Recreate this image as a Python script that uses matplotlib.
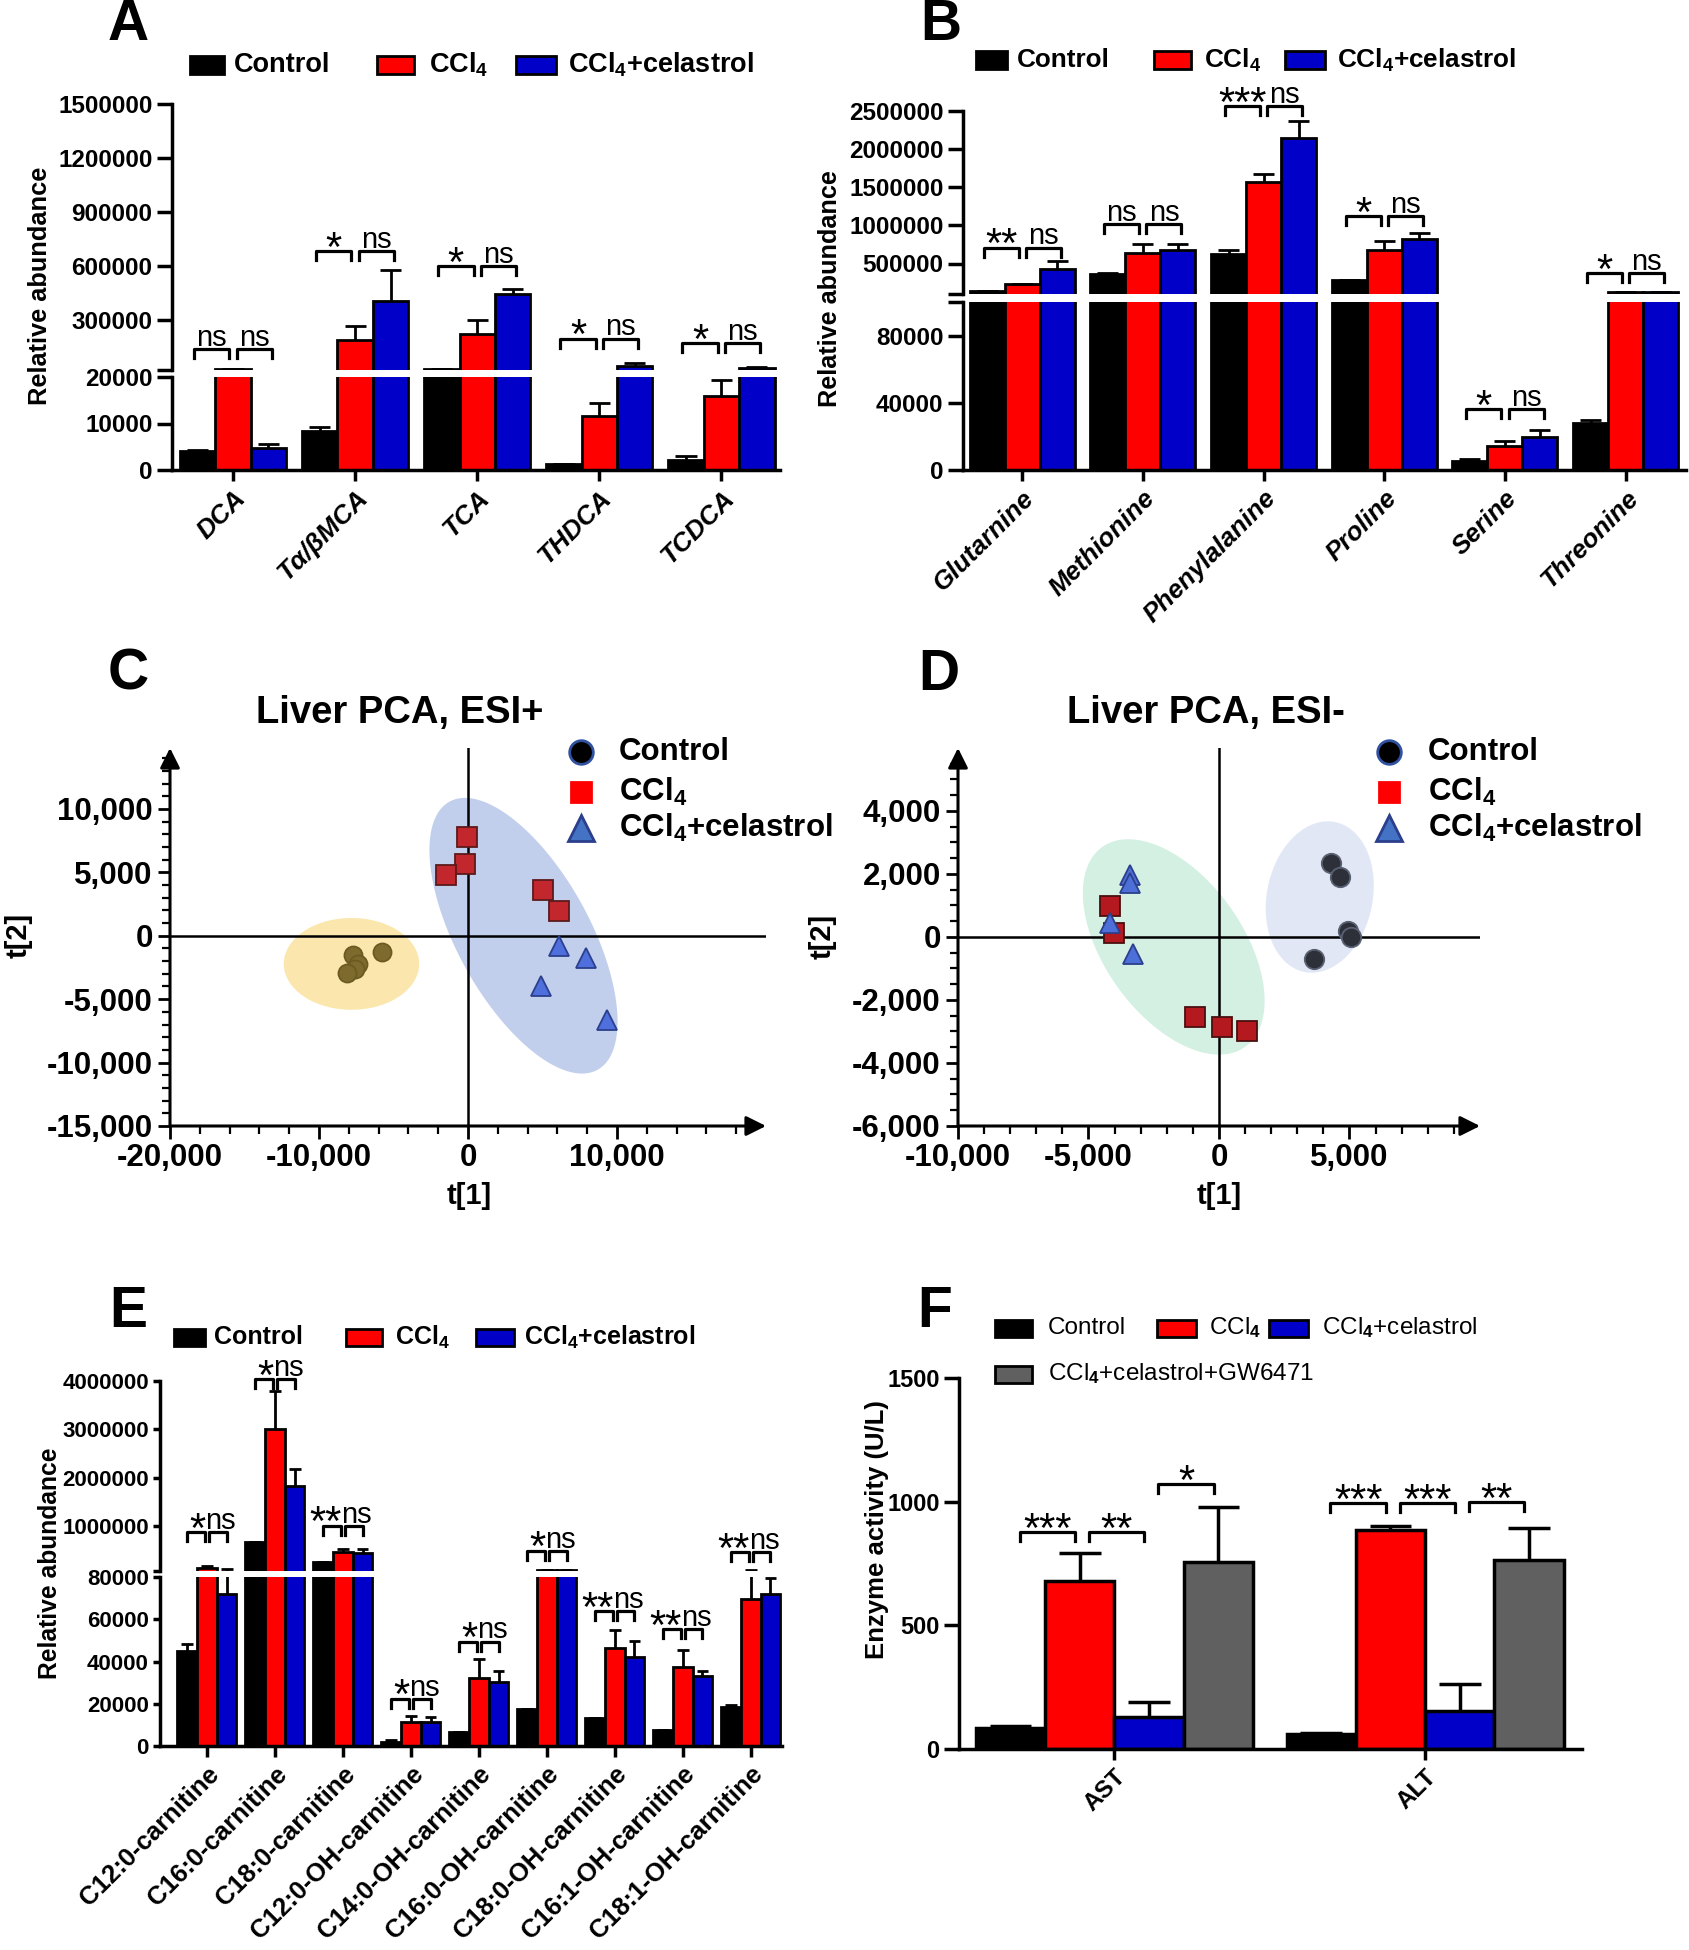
import numpy as np
import matplotlib.pyplot as plt
from matplotlib.patches import Rectangle
from matplotlib.lines import Line2D
from matplotlib.ticker import FixedLocator, FuncFormatter
from matplotlib.transforms import offset_copy

plt.rcParams['font.family'] = ['Liberation Sans', 'DejaVu Sans']
plt.rcParams['font.weight'] = 'bold'
plt.rcParams['mathtext.fontset'] = 'custom'
plt.rcParams['mathtext.rm'] = 'Liberation Sans:bold'
plt.rcParams['mathtext.bf'] = 'Liberation Sans:bold'
plt.rcParams['mathtext.default'] = 'rm'

W, H = 1689, 1950
CCL4 = 'CCl$_4$'
CEL = 'CCl$_4$+celastrol'
C_CTRL, C_CCL4, C_CEL, C_GW = '#000000', '#ff0000', '#0000c8', '#606060'

# ---------------- panel A : bile acids ----------------
cats_a = ['DCA', 'Tα/βMCA', 'TCA', 'THDCA', 'TCDCA']
ctrl_a = [4000, 8300, 26000, 1240, 2150]
ctrl_a_sem = [400, 900, 0, 0, 850]
ccl4_a = [26000, 189000, 222000, 11600, 16000]
ccl4_a_sem = [0, 75000, 78000, 2900, 3300]
cel_a = [4800, 405000, 443000, 42000, 31000]
cel_a_sem = [700, 172000, 29000, 17000, 6000]
sig_a = [('ns', 'ns'), ('*', 'ns'), ('*', 'ns'), ('*', 'ns'), ('*', 'ns')]
brk_a = [136000, 681000, 598000, 195000, 170000]

# ---------------- panel B : amino acids ----------------
cats_b = ['Glutarnine', 'Methionine', 'Phenylalanine', 'Proline', 'Serine', 'Threonine']
ctrl_b = [137000, 360000, 620000, 282000, 5500, 28000]
ctrl_b_sem = [0, 20000, 51000, 0, 900, 1700]
ccl4_b = [225000, 635000, 1564000, 680000, 14300, 126000]
ccl4_b_sem = [5000, 115000, 104000, 116000, 2800, 0]
cel_b = [427000, 680000, 2151000, 827000, 19700, 128000]
cel_b_sem = [104000, 80000, 218000, 68000, 4100, 0]
sig_b = [('**', 'ns'), ('ns', 'ns'), ('***', 'ns'), ('*', 'ns'), ('*', 'ns'), ('*', 'ns')]
brk_b = [708000, 1019000, 2567000, 1123000, 36300, 375000]

# ---------------- panel C : PCA ESI+ ----------------
c_ctrl_t1 = [-7700, -7400, -7600, -8100, -5800]
c_ctrl_t2 = [-1500, -2200, -2600, -2900, -1250]
c_ccl4_t1 = [-100, -200, -1450, 5020, 6110]
c_ccl4_t2 = [7750, 5680, 4820, 3610, 1980]
c_cel_t1 = [6100, 7930, 4870, 9350]
c_cel_t2 = [-800, -1780, -3930, -6660]

# ---------------- panel D : PCA ESI- ----------------
d_ctrl_t1 = [4290, 4650, 4940, 5060, 3630]
d_ctrl_t2 = [2350, 1920, 180, 0, -690]
d_ccl4_t1 = [-4180, -4040, -920, 100, 1080]
d_ccl4_t2 = [970, 120, -2550, -2850, -2970]
d_cel_t1 = [-3410, -3410, -4180, -3310]
d_cel_t2 = [1960, 1720, 450, -530]

# ---------------- panel E : acylcarnitines ----------------
cats_e = ['C12:0-carnitine', 'C16:0-carnitine', 'C18:0-carnitine', 'C12:0-OH-carnitine',
          'C14:0-OH-carnitine', 'C16:0-OH-carnitine', 'C18:0-OH-carnitine',
          'C16:1-OH-carnitine', 'C18:1-OH-carnitine']
ctrl_e = [44900, 686000, 276000, 2040, 6530, 17300, 13300, 7550, 18400]
ctrl_e_sem = [3500, 0, 0, 600, 0, 0, 0, 0, 1000]
ccl4_e = [151000, 3019000, 463000, 11200, 32000, 98000, 46500, 37300, 69800]
ccl4_e_sem = [36000, 774000, 80000, 3100, 9000, 0, 8200, 8000, 28000]
cel_e = [71800, 1843000, 454000, 11200, 30200, 98000, 42200, 33000, 72000]
cel_e_sem = [44000, 347000, 80000, 2700, 5300, 0, 7400, 2500, 7600]
sig_e = [('*', 'ns'), ('*', 'ns'), ('**', 'ns'), ('*', 'ns'), ('*', 'ns'),
         ('*', 'ns'), ('**', 'ns'), ('**', 'ns'), ('**', 'ns')]
brk_e = [881000, 4040000, 1015000, 22400, 49400, 499000, 63700, 55500, 463000]

# ---------------- panel F : serum enzymes ----------------
cats_f = ['AST', 'ALT']
ctrl_f = [86, 61]
ctrl_f_sem = [9, 3]
ccl4_f = [678, 884]
ccl4_f_sem = [116, 19]
cel_f = [130, 154]
cel_f_sem = [59, 109]
gw_f = [756, 765]
gw_f_sem = [222, 129]
sig_f = [[('***', 0, 1, 877), ('**', 1, 2, 877), ('*', 2, 3, 1071)],
         [('***', 0, 1, 995), ('***', 1, 2, 995), ('**', 2, 3, 998)]]

NS_FS, AST_FS = 21, 30

fig = plt.figure(figsize=(W / 100, H / 100), dpi=100)


def box(l, t, r, b):
    return [l / W, 1 - b / H, (r - l) / W, (b - t) / H]


def ftext(x, y, s, **kw):
    fig.text(x / W, 1 - y / H, s, **kw)


def legend_row(items, y, fs, h=17, weight='bold'):
    for x0, x1, tx, label, col in items:
        fig.add_artist(Rectangle((x0 / W, 1 - (y + h / 2) / H), (x1 - x0) / W, h / H,
                                 transform=fig.transFigure, facecolor=col,
                                 edgecolor='black', lw=2))
        ftext(tx, y, label, fontsize=fs, va='center', ha='left', fontweight=weight)


def bracket(ax, x0, x1, y, txt, side=None):
    # side: None -> text centred; 'left' -> text ends at right leg; 'right' -> starts at left leg
    y0, y1 = ax.get_ylim()
    h = 9 * (y1 - y0) / (ax.get_position().height * H)
    ax.plot([x0, x0, x1, x1], [y - h, y, y, y - h], color='black', lw=2.3,
            clip_on=False, zorder=5)
    if side == 'left':
        tx, ha = x1 + 0.01, 'right'
    elif side == 'right':
        tx, ha = x0 - 0.05, 'left'
    else:
        tx, ha = (x0 + x1) / 2, 'center'
    if '*' in txt:
        tr = offset_copy(ax.transData, fig=fig, y=-0.31 * AST_FS, units='points')
        ax.text(tx, y + h * 0.35, txt, ha=ha, va='baseline',
                fontsize=AST_FS, fontweight='normal', transform=tr, clip_on=False)
    else:
        ax.text(tx, y + h * 0.35, txt, ha=ha, va='baseline',
                fontsize=NS_FS, fontweight='normal', clip_on=False)


def draw_bars(ax, xs, vals, sems, col, width, floor, lw=2):
    xs = np.asarray(xs, float)
    vals = np.asarray(vals, float)
    tops = vals + np.asarray(sems, float)
    keep = vals > floor
    ax.bar(xs[keep], vals[keep], width, color=col, edgecolor='black', linewidth=lw, zorder=2)
    ke = tops > floor
    cw = width * 0.3
    ax.vlines(xs[ke], vals[ke], tops[ke], color='black', lw=lw, zorder=3)
    ax.hlines(tops[ke], xs[ke] - cw, xs[ke] + cw, color='black', lw=lw, zorder=3)


def style_axis(ax, fs, ylen=11):
    for s in ax.spines.values():
        s.set_linewidth(2.5)
    ax.spines['top'].set_visible(False)
    ax.spines['right'].set_visible(False)
    ax.tick_params(axis='y', length=ylen, width=2.5, labelsize=fs, pad=3)
    ax.tick_params(axis='x', length=8, width=2.5, labelsize=fs)


def broken_bars(r_up, r_lo, lim_up, lim_lo, tk_up, tk_lo, lab_lo, xlim, series, width,
                cats, sig, brk, fs, xfs, italic, d1, d2, ylen, tight=False):
    ax_up = fig.add_axes(r_up)
    ax_lo = fig.add_axes(r_lo)
    n = len(cats)
    x = np.arange(n)
    offs = (np.arange(len(series)) - (len(series) - 1) / 2) * width
    for ax, floor in ((ax_up, lim_up[0]), (ax_lo, -np.inf)):
        for (vals, sems, col), off in zip(series, offs):
            draw_bars(ax, x + off, vals, sems, col, width, floor)
        ax.set_xlim(xlim)
        style_axis(ax, fs, ylen)
    ax_up.set_ylim(lim_up)
    ax_lo.set_ylim(lim_lo)
    ax_up.spines['bottom'].set_visible(False)
    ax_up.tick_params(axis='x', bottom=False, labelbottom=False)
    ax_up.set_yticks(tk_up)
    ax_up.set_yticklabels([''] + [str(v) for v in tk_up[1:]])
    ax_lo.set_yticks(tk_lo)
    ax_lo.set_yticklabels(lab_lo)
    ax_lo.set_xticks(x)
    ax_lo.set_xticklabels(cats, rotation=45, ha='right', va='top', rotation_mode='anchor',
                          fontsize=xfs, fontstyle='italic' if italic else 'normal')
    for i in range(n):
        ax = ax_up if brk[i] > lim_lo[1] else ax_lo
        bracket(ax, i - width - d1, i - d2, brk[i], sig[i][0], 'left' if tight else None)
        bracket(ax, i + d2, i + width + d1, brk[i], sig[i][1], 'right' if tight else None)
    return ax_up, ax_lo


# ---------- A ----------
broken_bars(box(172, 104, 780, 370), box(172, 377, 780, 470), (20000, 1500000), (0, 20000),
            [20000, 300000, 600000, 900000, 1200000, 1500000], [0, 10000, 20000],
            ['0', '10000', '20000'], (-0.5, 4.48),
            [(ctrl_a, ctrl_a_sem, C_CTRL), (ccl4_a, ccl4_a_sem, C_CCL4), (cel_a, cel_a_sem, C_CEL)],
            0.29, cats_a, sig_a, brk_a, 17.5, 19, True, 0.03, 0.03, 11)
ftext(128, 25, 'A', fontsize=41, ha='center', va='center')
ftext(40, 286, 'Relative abundance', fontsize=18.3, rotation=90, ha='center', va='center')
legend_row([(190, 224, 234, 'Control', C_CTRL), (377, 414, 429, CCL4, C_CCL4),
            (516, 556, 568, CEL, C_CEL)], 65, 19.5)

# ---------- B ----------
broken_bars(box(963, 111, 1686, 294), box(963, 302, 1686, 470), (100000, 2500000), (0, 100000),
            [100000, 500000, 1000000, 1500000, 2000000, 2500000], [0, 40000, 80000, 100000],
            ['0', '40000', '80000', ''], (-0.49, 5.5),
            [(ctrl_b, ctrl_b_sem, C_CTRL), (ccl4_b, ccl4_b_sem, C_CCL4), (cel_b, cel_b_sem, C_CEL)],
            0.29, cats_b, sig_b, brk_b, 17.5, 18.8, True, 0.03, 0.03, 11)
ftext(941, 25, 'B', fontsize=41, ha='center', va='center')
ftext(830, 289, 'Relative abundance', fontsize=18.2, rotation=90, ha='center', va='center')
legend_row([(976, 1007, 1017, 'Control', C_CTRL), (1154, 1191, 1204, CCL4, C_CCL4),
            (1285, 1325, 1337, CEL, C_CEL)], 60, 18.8)


# ---------- C and D : PCA ----------
def pca_panel(r, xlim, ylim, xt, xm, yt, ym, groups, ells):
    ax = fig.add_axes(r)
    t = np.linspace(0, 2 * np.pi, 240)
    for c, a, b, col, al in ells:
        pts = np.array(c) + np.outer(np.cos(t), a) + np.outer(np.sin(t), b)
        ax.fill(pts[:, 0], pts[:, 1], color=col, alpha=al, lw=0, zorder=1)
    ax.axhline(0, color='black', lw=1.8, zorder=2)
    ax.axvline(0, color='black', lw=1.8, zorder=2)
    for t1, t2, mk, fc, ec, ms in groups:
        ax.plot(t1, t2, ls='none', marker=mk, ms=ms, mfc=fc, mec=ec, mew=1.3, zorder=3)
    ax.set_xlim(xlim)
    ax.set_ylim(ylim)
    for s in ax.spines.values():
        s.set_visible(False)
    arr = dict(arrowstyle='-|>', lw=2.2, color='black', mutation_scale=30, shrinkA=0, shrinkB=0)
    ax.annotate('', xy=(1, 0), xytext=(0, 0), xycoords='axes fraction', arrowprops=arr)
    ax.annotate('', xy=(0, 1), xytext=(0, 0), xycoords='axes fraction', arrowprops=arr)
    ax.xaxis.set_major_locator(FixedLocator(xt))
    ax.xaxis.set_minor_locator(FixedLocator(xm))
    ax.yaxis.set_major_locator(FixedLocator(yt))
    ax.yaxis.set_minor_locator(FixedLocator(ym))
    fmt = FuncFormatter(lambda v, p: f'{int(round(v)):,}')
    ax.xaxis.set_major_formatter(fmt)
    ax.yaxis.set_major_formatter(fmt)
    ax.tick_params(which='major', length=9, width=2, labelsize=22.5)
    ax.tick_params(which='minor', length=6, width=1.6)
    return ax


def pca_legend(xm, xt, ys):
    specs = [('o', 'black', '#3050a0', 17, 'Control'), ('s', '#ff0000', '#ff0000', 15, CCL4),
             ('^', '#4472c4', '#2b3f8c', 19, CEL)]
    for (mk, fc, ec, ms, lab), y in zip(specs, ys):
        fig.add_artist(Line2D([xm / W], [1 - y / H], marker=mk, ms=ms, mfc=fc, mec=ec, mew=2,
                              ls='none', transform=fig.transFigure))
        ftext(xt, y, lab, fontsize=22.5, va='center', ha='left')


pca_panel(box(170, 748, 766, 1126), (-20000, 20000), (-15000, 14800),
          [-20000, -10000, 0, 10000], np.arange(-18000, 19000, 2000),
          [-15000, -10000, -5000, 0, 5000, 10000], np.arange(-14000, 14500, 1000),
          [(c_ctrl_t1, c_ctrl_t2, 'o', '#7d6a2c', '#6b5a22', 13),
           (c_ccl4_t1, c_ccl4_t2, 's', '#c1272d', '#5c1a1a', 14),
           (c_cel_t1, c_cel_t2, '^', '#4f70dc', '#2b3f8c', 14)],
          [((-7820, -2220), (4545, 0), (0, 3620), '#fbe3a0', 0.85),
           ((3725, 0), (-4455, 10800), (4473, 1213), '#aec0e6', 0.75)])
ftext(128, 675, 'C', fontsize=41, ha='center', va='center')
ftext(400, 713, 'Liver PCA, ESI+', fontsize=27.5, ha='center', va='center')
ftext(19, 935, 't[2]', fontsize=21, rotation=90, ha='center', va='center')
ftext(469, 1196, 't[1]', fontsize=21, ha='center', va='center')
pca_legend(581, 619, [752, 792, 828])

pca_panel(box(958, 748, 1480, 1126), (-10000, 10000), (-6000, 6000),
          [-10000, -5000, 0, 5000], np.arange(-9000, 9500, 1000),
          [-6000, -4000, -2000, 0, 2000, 4000], np.arange(-5500, 5800, 500),
          [(d_ctrl_t1, d_ctrl_t2, 'o', '#2d3038', '#596173', 14),
           (d_ccl4_t1, d_ccl4_t2, 's', '#b3191f', '#4a1010', 15),
           (d_cel_t1, d_cel_t2, '^', '#4d6fd8', '#2b3f8c', 14)],
          [((-1735, -315), (-2245, 3365), (2663, 603), '#cdeedd', 0.85),
           ((3860, 1270), (408, 2400), (2030, -118), '#dfe5f5', 0.9)])
ftext(939, 675, 'D', fontsize=41, ha='center', va='center')
ftext(1206, 713, 'Liver PCA, ESI-', fontsize=27.5, ha='center', va='center')
ftext(823, 936, 't[2]', fontsize=21, rotation=90, ha='center', va='center')
ftext(1219, 1196, 't[1]', fontsize=21, ha='center', va='center')
pca_legend(1389, 1428, [752, 792, 828])

# ---------- E ----------
broken_bars(box(160, 1381, 782, 1571), box(160, 1577, 782, 1746), (80000, 4000000), (0, 80000),
            [80000, 1000000, 2000000, 3000000, 4000000], [0, 20000, 40000, 60000, 80000],
            ['0', '20000', '40000', '60000', '80000'], (-0.69, 8.46),
            [(ctrl_e, ctrl_e_sem, C_CTRL), (ccl4_e, ccl4_e_sem, C_CCL4), (cel_e, cel_e_sem, C_CEL)],
            0.29, cats_e, sig_e, brk_e, 16, 18.5, False, 0.0, 0.03, 5, tight=True)
ftext(128, 1312, 'E', fontsize=41, ha='center', va='center')
ftext(50, 1563, 'Relative abundance', fontsize=17.7, rotation=90, ha='center', va='center')
legend_row([(174, 205, 214, 'Control', C_CTRL), (346, 382, 395, CCL4, C_CCL4),
            (476, 514, 524, CEL, C_CEL)], 1337, 18)

# ---------- F ----------
axf = fig.add_axes(box(959, 1378, 1582, 1749))
xf = np.arange(len(cats_f))
wf = 0.223
series_f = [(ctrl_f, ctrl_f_sem, C_CTRL), (ccl4_f, ccl4_f_sem, C_CCL4),
            (cel_f, cel_f_sem, C_CEL), (gw_f, gw_f_sem, C_GW)]
for k, (vals, sems, col) in enumerate(series_f):
    draw_bars(axf, xf + (k - 1.5) * wf, vals, sems, col, wf, -np.inf, lw=2.5)
axf.set_xlim(-0.5, 1.505)
axf.set_ylim(0, 1500)
axf.set_yticks([0, 500, 1000, 1500])
style_axis(axf, 17, 11)
axf.set_xticks(xf)
axf.set_xticklabels(cats_f, rotation=45, ha='right', va='top', rotation_mode='anchor', fontsize=17.5)
for g, lst in enumerate(sig_f):
    for txt, i, j, y in lst:
        bracket(axf, g + (i - 1.5) * wf + 0.03, g + (j - 1.5) * wf - 0.015, y, txt)
ftext(935, 1312, 'F', fontsize=41, ha='center', va='center')
ftext(877, 1530, 'Enzyme activity (U/L)', fontsize=18.5, rotation=90, ha='center', va='center')
legend_row([(995, 1032, 1048, 'Control', C_CTRL), (1157, 1196, 1209, CCL4, C_CCL4),
            (1269, 1308, 1322, CEL, C_CEL)], 1328, 17.5, weight='normal')
legend_row([(995, 1032, 1048, CEL + '+GW6471', C_GW)], 1374, 17.5, weight='normal')

fig.savefig('out.png', dpi=100)
